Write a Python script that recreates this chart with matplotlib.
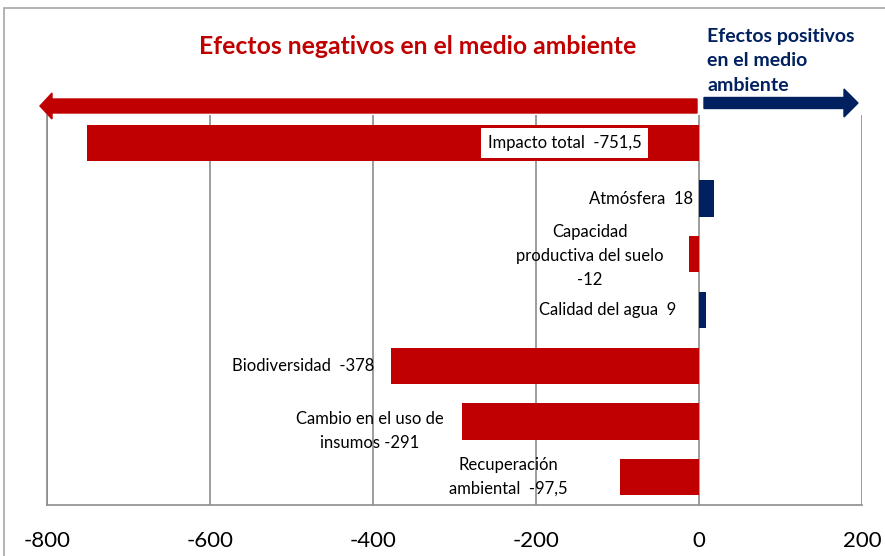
import matplotlib.pyplot as plt
from matplotlib.patches import Rectangle, FancyArrow
import numpy as np

# Impact scores per component
componentes = ['Impacto total', 'Atmósfera', 'Capacidad productiva del suelo',
               'Calidad del agua', 'Biodiversidad', 'Cambio en el uso de insumos',
               'Recuperación ambiental']
valores = [-751.5, 18, -12, 9, -378, -291, -97.5]
etiquetas = ['Impacto total  -751,5', 'Atmósfera  18',
             'Capacidad\nproductiva del suelo\n-12', 'Calidad del agua  9',
             'Biodiversidad  -378', 'Cambio en el uso de\ninsumos -291',
             'Recuperación\nambiental  -97,5']
ticks = [-800, -600, -400, -200, 0, 200]

rojo = '#C00000'
azul = '#002060'
plt.rcParams['font.family'] = ['Lato', 'DejaVu Sans']

fig = plt.figure(figsize=(8.85, 5.56), dpi=100)
ax = fig.add_axes([47 / 885, 1 - 505 / 556, (862 - 47) / 885, (505 - 115) / 556])

y = np.arange(len(valores))
colores = [rojo if v < 0 else azul for v in valores]
ax.barh(y, valores, height=0.65, color=colores, zorder=2)
ax.set_ylim(len(valores) - 0.5, -0.5)
ax.set_xlim(-800, 200)
ax.set_xticks(ticks)
ax.set_xticklabels([str(t) for t in ticks], fontsize=16)
ax.tick_params(axis='x', length=0, pad=19)
ax.set_yticks([])
ax.grid(axis='x', color='#8c8c8c', linewidth=1.2, zorder=1)
for s in ['top', 'right']:
    ax.spines[s].set_visible(False)
for s in ['left', 'bottom']:
    ax.spines[s].set_color('#8c8c8c')
    ax.spines[s].set_linewidth(1.2)

fs = 12
# bar labels
ax.text(-165, 0, etiquetas[0], ha='center', va='center', fontsize=fs,
        bbox=dict(facecolor='white', edgecolor='none', pad=5), zorder=3)
ax.text(-7, 1, etiquetas[1], ha='right', va='center', fontsize=fs)
ax.text(-134, 2.03, etiquetas[2], ha='center', va='center', fontsize=fs,
        linespacing=1.6)
ax.text(-28, 3, etiquetas[3], ha='right', va='center', fontsize=fs)
ax.text(-398, 4, etiquetas[4], ha='right', va='center', fontsize=fs)
ax.text(-404, 5.17, etiquetas[5], ha='center', va='center', fontsize=fs,
        linespacing=1.6)
ax.text(-234, 6, etiquetas[6], ha='center', va='center', fontsize=fs,
        linespacing=1.6)

# headings
fig.text(418 / 885, 1 - 47 / 556, 'Efectos negativos en el medio ambiente',
         color=rojo, fontsize=17.8, fontweight='bold', ha='center', va='center')
fig.text(707 / 885, 1 - 61 / 556, 'Efectos positivos\nen el medio\nambiente',
         color=azul, fontsize=14, fontweight='bold', ha='left', va='center',
         linespacing=1.55)

# direction arrows
W, H = 885, 556
fig.patches.append(FancyArrow(697 / W, 1 - 106 / H, -(697 - 40) / W, 0,
                              width=14 / H, head_width=26 / H, head_length=12 / W,
                              length_includes_head=True, color=rojo,
                              transform=fig.transFigure))
fig.patches.append(FancyArrow(704 / W, 1 - 103 / H, (858 - 704) / W, 0,
                              width=11 / H, head_width=28 / H, head_length=14 / W,
                              length_includes_head=True, color=azul,
                              transform=fig.transFigure))

# outer frame
fig.patches.append(Rectangle((4 / W, -0.1), 1.2, 1 - 8 / H + 0.1, fill=False,
                             edgecolor='#a6a6a6', linewidth=1.2,
                             transform=fig.transFigure))

fig.savefig('out.png', dpi=100)
